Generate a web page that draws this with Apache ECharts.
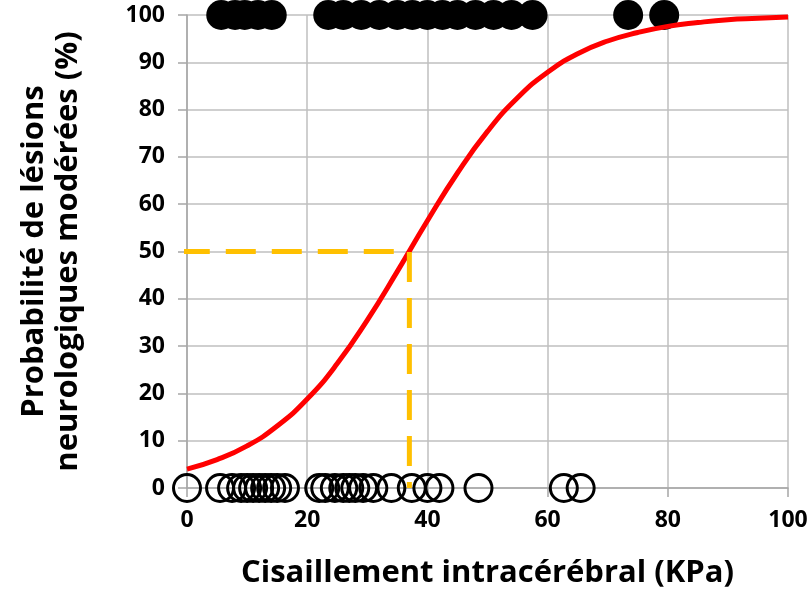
<!DOCTYPE html>
<html>
<head>
<meta charset="utf-8">
<script src="https://cdn.jsdelivr.net/npm/echarts@6/dist/echarts.min.js"></script>
<style>html,body{margin:0;padding:0;background:#fff;}#c{width:810px;height:591px;}</style>
</head>
<body>
<div id="c"></div>
<script>
// Observed cases with moderate lesions (probability 100%)
const lesionX = [5.7, 8, 9.6, 11.8, 14.1, 23.5, 26, 29, 32, 35, 37.5, 40, 42.5, 45, 48, 51, 54, 57.5, 73.4, 79.4];
// Observed cases without lesions (probability 0%)
const noLesionX = [0, 5.5, 7.5, 9, 10, 11, 12, 13, 14, 15, 16.3, 22, 23, 24.6, 26, 27, 28, 29.3, 31, 34, 37.4, 40, 42, 48.5, 62.7, 65.5];
// Fitted probability curve
const curveX = [0, 5, 10, 15, 20, 25, 30, 35, 40, 45, 50, 55, 60, 65, 70, 75, 80, 85, 90, 95, 100];
const curveY = [4.0, 6.0, 8.9, 13.1, 18.8, 26.3, 35.5, 45.8, 56.5, 66.6, 75.4, 82.5, 87.9, 91.8, 94.5, 96.3, 97.6, 98.4, 99.0, 99.3, 99.6];
// Threshold at 50%
const thresholdX = 37;
const thresholdY = 50;
const xTicks = [0, 20, 40, 60, 80, 100];
const yTicks = [0, 10, 20, 30, 40, 50, 60, 70, 80, 90, 100];

const font = '"Open Sans", Lato, sans-serif';
const chart = echarts.init(document.getElementById('c'));
chart.setOption({
  animation: false,
  backgroundColor: '#fff',
  grid: {left: 187, right: 22, top: 15, bottom: 103, containLabel: false, outerBoundsMode: 'none'},
  xAxis: {
    type: 'value', min: xTicks[0], max: xTicks[xTicks.length-1], interval: 20,
    name: 'Cisaillement intracérébral (KPa)', nameLocation: 'middle', nameGap: 70,
    nameTextStyle: {fontFamily: font, fontWeight: 'bold', fontSize: 31, color: '#000'},
    axisLine: {show: true, lineStyle: {color: '#a6a6a6', width: 1.5}},
    axisTick: {show: true, length: 9, lineStyle: {color: '#a6a6a6', width: 1.5}},
    axisLabel: {fontFamily: font, fontWeight: 'bold', fontSize: 23, color: '#000', margin: 21},
    splitLine: {show: true, lineStyle: {color: '#bfbfbf', width: 1.5}}
  },
  yAxis: {
    type: 'value', min: yTicks[0], max: yTicks[yTicks.length-1], interval: 10,
    name: 'Probabilité de lésions\nneurologiques modérées (%)', nameLocation: 'middle', nameGap: 102, nameRotate: 90,
    nameTextStyle: {fontFamily: font, fontWeight: 'bold', fontSize: 31, color: '#000', lineHeight: 34},
    axisLine: {show: true, lineStyle: {color: '#a6a6a6', width: 1.5}},
    axisTick: {show: true, length: 9, lineStyle: {color: '#a6a6a6', width: 1.5}},
    axisLabel: {fontFamily: font, fontWeight: 'bold', fontSize: 23, color: '#000', margin: 22},
    splitLine: {show: true, lineStyle: {color: '#bfbfbf', width: 1.5}}
  },
  series: [
    {
      type: 'scatter', z: 2, symbol: 'circle', symbolSize: 30,
      data: lesionX.map(x => [x, 100]),
      itemStyle: {color: '#000', opacity: 1},
      clip: false
    },
    {
      type: 'scatter', z: 2, symbol: 'circle', symbolSize: 27,
      data: noLesionX.map(x => [x, 0]),
      itemStyle: {color: 'rgba(0,0,0,0)', borderColor: '#000', borderWidth: 3, opacity: 1},
      clip: false
    },
    {
      type: 'line', z: 3, smooth: true, showSymbol: false, symbol: 'none',
      data: curveX.map((x, i) => [x, curveY[i]]),
      lineStyle: {color: '#ff0000', width: 5}
    },
    {
      type: 'line', z: 4, showSymbol: false, symbol: 'none',
      data: [[-1.2, thresholdY], [thresholdX, thresholdY], [thresholdX, 0]],
      lineStyle: {color: '#ffc000', width: 5, type: [30, 16]},
      clip: false
    }
  ]
});
</script>
</body>
</html>
